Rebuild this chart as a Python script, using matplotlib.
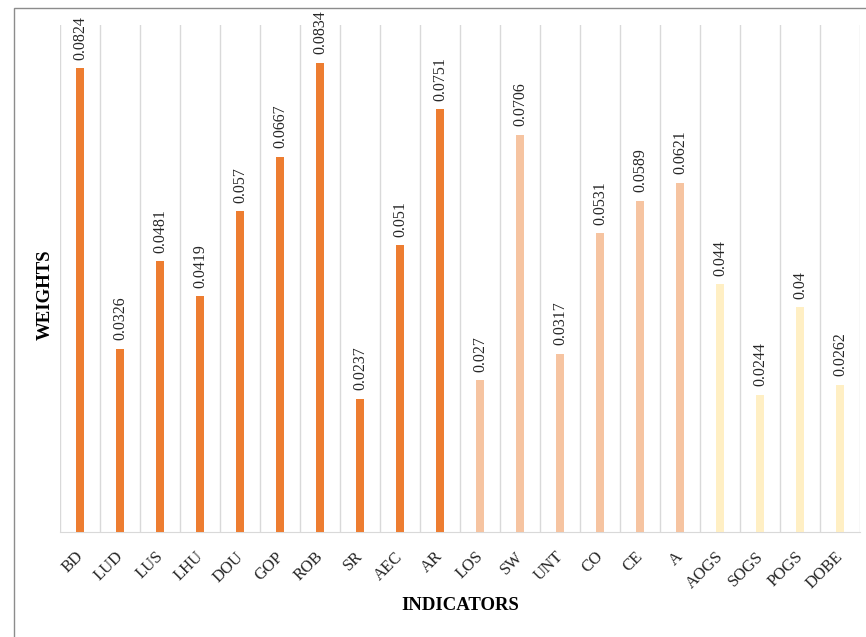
import matplotlib
matplotlib.use("Agg")
import matplotlib.pyplot as plt
from matplotlib.patches import Rectangle
from matplotlib.transforms import ScaledTranslation

categories = ["BD", "LUD", "LUS", "LHU", "DOU", "GOP", "ROB", "SR", "AEC", "AR",
              "LOS", "SW", "UNT", "CO", "CE", "A", "AOGS", "SOGS", "POGS", "DOBE"]
weights = [0.0824, 0.0326, 0.0481, 0.0419, 0.057, 0.0667, 0.0834, 0.0237, 0.051, 0.0751,
           0.027, 0.0706, 0.0317, 0.0531, 0.0589, 0.0621, 0.044, 0.0244, 0.04, 0.0262]
labels = ["0.0824", "0.0326", "0.0481", "0.0419", "0.057", "0.0667", "0.0834", "0.0237", "0.051", "0.0751",
          "0.027", "0.0706", "0.0317", "0.0531", "0.0589", "0.0621", "0.044", "0.0244", "0.04", "0.0262"]
groups = [0]*10 + [1]*6 + [2]*4
group_colors = ["#ED7D31", "#F6C4A1", "#FFEFC4"]

plt.rcParams['font.family'] = ['Liberation Serif', 'DejaVu Serif']

fig = plt.figure(figsize=(8.66, 6.37), dpi=100)
W, H = 866, 637
ax = fig.add_axes([60/W, 1-532/H, 800/W, (532-25)/H])

x = list(range(len(categories)))
colors = [group_colors[g] for g in groups]
ax.bar(x, weights, width=0.22, color=colors, zorder=3)
ax.set_xlim(-0.5, len(categories)-0.5)
ax.set_ylim(0, 0.0901)

for i in range(len(categories)+1):
    ax.axvline(i-0.5, color="#D9D9D9", lw=1.0, zorder=1)

for xi, v, lab in zip(x, weights, labels):
    ax.annotate(lab, (xi, v), xytext=(0, 6), textcoords="offset points",
                rotation=90, ha="center", va="bottom", fontsize=11.5, color="#262626")

for s in ["top", "right", "left"]:
    ax.spines[s].set_visible(False)
ax.spines["bottom"].set_color("#D9D9D9")
ax.set_yticks([])
ax.set_xticks(x)
ax.set_xticklabels(categories, rotation=45, ha="right", rotation_mode="anchor",
                   fontsize=12, color="#262626")
ax.tick_params(axis="x", length=0, pad=12)
off = ScaledTranslation(-5/100, 0, fig.dpi_scale_trans)
for t in ax.get_xticklabels():
    t.set_transform(t.get_transform() + off)

fig.text(45/W, 1-295/H, "WEIGHTS", rotation=90, ha="center", va="center",
         fontsize=13.5, fontweight="bold")
fig.text(460/W, 1-606/H, "INDICATORS", ha="center", va="center",
         fontsize=13.5, fontweight="bold")

fig.patches.append(Rectangle((14/W, -0.05), 1.1, 1 - 8/H + 0.05, transform=fig.transFigure,
                             fill=False, edgecolor="#8C8C8C", lw=1.0))

fig.savefig("out.png", dpi=100)
